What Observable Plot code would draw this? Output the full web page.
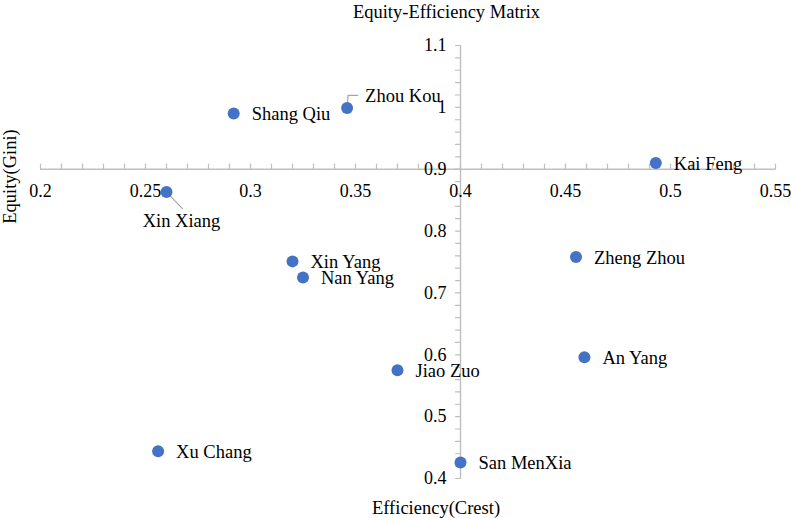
<!DOCTYPE html>
<html><head><meta charset="utf-8">
<script src="https://cdn.jsdelivr.net/npm/d3@7"></script>
<script src="https://cdn.jsdelivr.net/npm/@observablehq/plot@0.6"></script>
<style>body{margin:0;background:#fff} svg text{font-family:"Liberation Serif","Times New Roman",serif !important;}</style>
</head><body><div id="chart"></div>
<script>
// ---- data ----
const cities = ["Zhou Kou","Shang Qiu","Kai Feng","Xin Xiang","Xin Yang","Nan Yang","Zheng Zhou","An Yang","Jiao Zuo","Xu Chang","San MenXia"];
const efficiency = [0.346,0.292,0.493,0.260,0.320,0.325,0.455,0.459,0.370,0.256,0.400];
const equity = [0.999,0.990,0.910,0.863,0.751,0.725,0.758,0.596,0.575,0.444,0.426];
const xTicks = [0.2,0.25,0.3,0.35,0.4,0.45,0.5,0.55];
const xTickLabels = ["0.2","0.25","0.3","0.35","0.4","0.45","0.5","0.55"];
const yTicks = [0.4,0.5,0.6,0.7,0.8,0.9,1.0,1.1];
const yTickLabels = ["0.4","0.5","0.6","0.7","0.8","0.9","1","1.1"];
const title = "Equity-Efficiency Matrix";
const xTitle = "Efficiency(Crest)";
const yTitle = "Equity(Gini)";

// ---- derived ----
const points = cities.map((c, i) => ({city: c, x: efficiency[i], y: equity[i]}));
const xMinor = d3.range(0, 36).map(i => +(0.2 + i * 0.01).toFixed(3));
const yMinor = d3.range(0, 36).map(i => +(0.4 + i * 0.02).toFixed(3));
const crossX = 0.4, crossY = 0.9;

const axisColor = "#bfbfbf";
const leaderColor = "#a6a6a6";
const font = "'Liberation Serif', 'Times New Roman', serif";
const lineShape = {draw(ctx, l) { ctx.moveTo(0, 0); ctx.lineTo(0, -l); }};
const elbowShape = {draw(ctx) { ctx.moveTo(0, 0); ctx.lineTo(1, -12.7); ctx.lineTo(10.7, -12.7); }};

const plain = points.filter(d => d.city !== "Xin Xiang" && d.city !== "Zhou Kou");
const xinXiang = points.filter(d => d.city === "Xin Xiang");
const zhouKou = points.filter(d => d.city === "Zhou Kou");
const T = {fontFamily: font, fill: "#000"};

const chart = Plot.plot({
  width: 791,
  height: 518,
  marginLeft: 40,
  marginRight: 16,
  marginTop: 45,
  marginBottom: 40,
  x: {domain: [0.2, 0.55], axis: null},
  y: {domain: [0.4, 1.1], axis: null},
  style: {fontFamily: font, background: "#fff", overflow: "visible"},
  marks: [
    Plot.ruleY([crossY], {x1: 0.2, x2: 0.55, stroke: axisColor, strokeWidth: 1.4}),
    Plot.ruleX([crossX], {y1: 0.4, y2: 1.1, stroke: axisColor, strokeWidth: 1.4}),
    Plot.vector(xMinor, {x: d => d, y: crossY, length: 5, rotate: 0, anchor: "start", shape: lineShape, stroke: axisColor, strokeWidth: 1.2}),
    Plot.vector(yMinor, {x: crossX, y: d => d, length: 5, rotate: -90, anchor: "start", shape: lineShape, stroke: axisColor, strokeWidth: 1.2}),
    Plot.text(xTicks, {x: d => d, y: crossY, text: (d, i) => xTickLabels[i], dy: 22, fontSize: 18, ...T}),
    Plot.text(yTicks, {x: crossX, y: d => d, text: (d, i) => yTickLabels[i], dx: -14, textAnchor: "end", fontSize: 18, ...T}),
    // leader lines
    Plot.vector(xinXiang, {x: "x", y: "y", length: 23, rotate: 136, anchor: "start", shape: lineShape, stroke: leaderColor, strokeWidth: 1.2}),
    Plot.vector(zhouKou, {x: "x", y: "y", length: 1, rotate: 0, anchor: "start", shape: elbowShape, stroke: leaderColor, strokeWidth: 1.2, fill: "none"}),
    // points
    Plot.dot(points, {x: "x", y: "y", r: 6, fill: "#4472c4", stroke: "none"}),
    // labels
    Plot.text(plain, {x: "x", y: "y", text: "city", dx: 18, dy: 1, textAnchor: "start", fontSize: 18.5, ...T}),
    Plot.text(xinXiang, {x: "x", y: "y", text: "city", dx: 15, dy: 29, textAnchor: "middle", fontSize: 18.5, ...T}),
    Plot.text(zhouKou, {x: "x", y: "y", text: "city", dx: 18, dy: -12, textAnchor: "start", fontSize: 18.5, ...T}),
    // titles
    Plot.text([title], {frameAnchor: "top", dx: 38.5, dy: -33, textAnchor: "middle", lineAnchor: "middle", fontSize: 18.5, ...T}),
    Plot.text([xTitle], {frameAnchor: "bottom", dx: 28, dy: 30, textAnchor: "middle", lineAnchor: "middle", fontSize: 18.5, ...T}),
    Plot.text([yTitle], {frameAnchor: "top-left", dx: -30, dy: 131, rotate: -90, textAnchor: "middle", lineAnchor: "middle", fontSize: 18.5, ...T})
  ]
});
document.getElementById("chart").appendChild(chart);
</script>
</body></html>
